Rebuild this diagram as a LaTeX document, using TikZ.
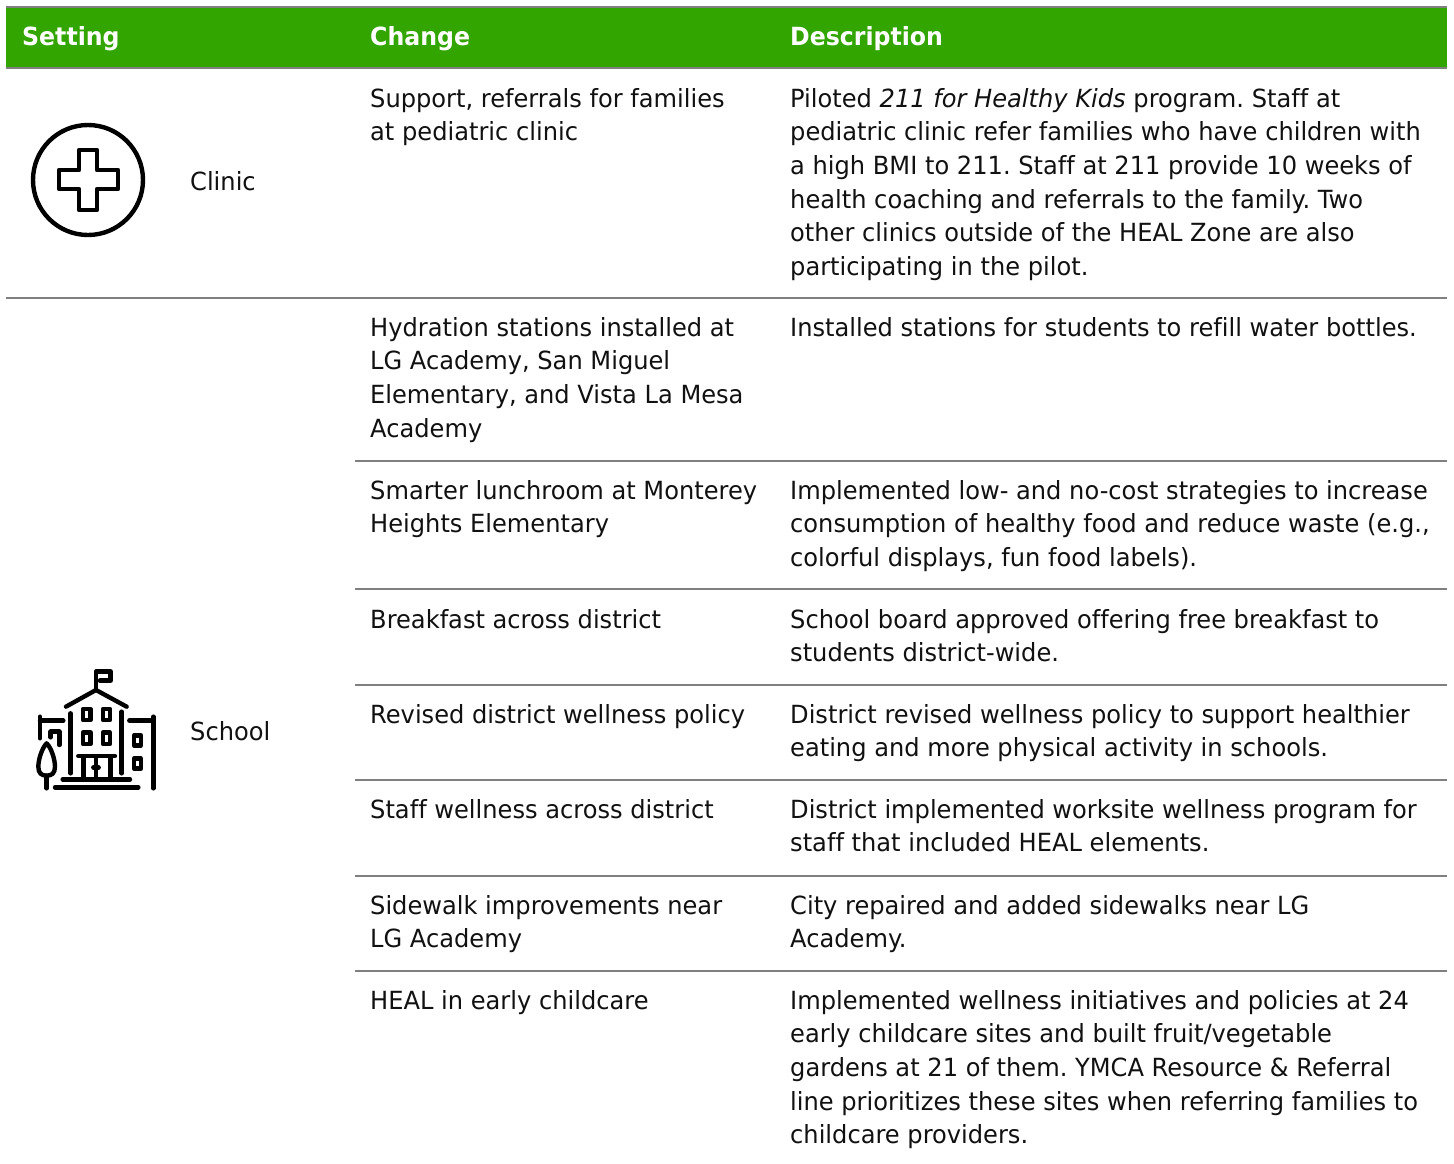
\documentclass[tikz,border=0pt]{standalone}
\usepackage{fontspec}
\setmainfont[FakeStretch=0.965,Ligatures=NoCommon]{DejaVu Sans}
\newfontfamily\headfont[FakeStretch=0.945,Ligatures=NoCommon]{DejaVu Sans Bold}
\definecolor{hdr}{HTML}{33A500}
\definecolor{txt}{HTML}{111111}
\definecolor{rulec}{HTML}{808080}
\tikzset{
  cell/.style={anchor=north west,inner sep=0pt,align=left,text=txt,font=\fontsize{25}{33.6}\selectfont\frenchspacing},
  head/.style={anchor=base west,inner sep=0pt,text=white,font=\fontsize{25}{30}\selectfont\headfont},
  rowrule/.style={draw=rulec,line width=1.3pt},
  icon/.style={draw=black,line width=4.4pt,line cap=round,line join=round,fill=none}
}
\newcommand{\fs}{\rule{0pt}{20pt}}
\begin{document}
\begin{tikzpicture}[x=1pt,y=-1pt]
\useasboundingbox (0,0) rectangle (1454,1163);
\fill[white] (0,0) rectangle (1454,1163);
\fill[hdr] (6,7) rectangle (1447,68);
\draw[rowrule] (6,7) -- (1447,7);
\draw[rowrule] (6,68) -- (1447,68);
\node[head] (hs) at (22,45) {Setting};
\node[head] (hc) at (370,45) {Change};
\node[head] (hd) at (790,45) {Description};
% rules
\draw[rowrule] (6,298) -- (1447,298);
\foreach \y in {461,589,685,780,876,971} \draw[rowrule] (355,\y) -- (1447,\y);
% clinic icon
\draw[icon] (88,180) circle (55);
\draw[icon,line width=4.8pt] (79,150) -- (97,150) -- (97,170) -- (118,170) -- (118,189) -- (97,189) -- (97,210) -- (79,210) -- (79,189) -- (59,189) -- (59,170) -- (79,170) -- cycle;
\node[cell,anchor=base west] (clinic) at (190,190) {Clinic};
% school icon
\begin{scope}[shift={(20,660)},x=0.3333pt,y=-0.3333pt]
\draw[icon] (228,90) -- (228,35) -- (272,35) -- (272,62) -- (240,62);
\draw[icon] (138,140) -- (228,90) -- (320,140);
\draw[icon] (152,160) -- (152,340);
\draw[icon] (305,155) -- (305,340);
\draw[icon] (189,147) rectangle (212,180);
\draw[icon] (249,147) rectangle (270,180);
\draw[icon] (189,218) rectangle (212,252);
\draw[icon] (249,218) rectangle (270,252);
\draw[icon] (175,288) -- (285,288);
\draw[icon] (190,290) -- (190,352);
\draw[icon] (272,290) -- (272,352);
\draw[icon] (228,290) -- (228,352);
\draw[icon] (220,322) -- (236,322);
\draw[icon] (128,358) -- (330,358);
\draw[icon] (105,382) -- (355,382);
\draw[icon] (60,170) -- (60,235);
\draw[icon] (60,182) -- (130,182);
\draw[icon] (92,232) -- (92,215) -- (118,215) -- (118,255);
\draw[icon] (80,250) .. controls (65,265) and (55,300) .. (55,320) .. controls (55,340) and (65,347) .. (80,347) .. controls (95,347) and (105,340) .. (105,320) .. controls (105,300) and (95,265) .. (80,250) -- cycle;
\draw[icon] (80,347) -- (80,385);
\draw[icon] (400,170) -- (400,385);
\draw[icon] (328,182) -- (400,182);
\draw[icon] (342,226) rectangle (363,256);
\draw[icon] (342,296) rectangle (363,326);
\end{scope}
\node[cell,anchor=base west] (school) at (190,740) {School};
% Change column
\node[cell] (c1) at (370,87) {\fs Support, referrals for families\\at pediatric clinic};
\node[cell] (c2) at (370,316) {\fs Hydration stations installed at\\LG Academy, San Miguel\\Elementary, and Vista La Mesa\\Academy};
\node[cell] (c3) at (370,479) {\fs Smarter lunchroom at Monterey\\Heights Elementary};
\node[cell] (c4) at (370,608) {\fs Breakfast across district};
\node[cell] (c5) at (370,703) {\fs Revised district wellness policy};
\node[cell] (c6) at (370,798) {\fs Staff wellness across district};
\node[cell] (c7) at (370,894) {\fs Sidewalk improvements near\\LG Academy};
\node[cell] (c8) at (370,989) {\fs HEAL in early childcare};
% Description column
\node[cell] (d1) at (790,87) {\fs Piloted \textit{211 for Healthy Kids} program. Staff at\\pediatric clinic refer families who have children with\\a high BMI to 211. Staff at 211 provide 10 weeks of\\health coaching and referrals to the family. Two\\other clinics outside of the HEAL Zone are also\\participating in the pilot.};
\node[cell] (d2) at (790,316) {\fs Installed stations for students to refill water bottles.};
\node[cell] (d3) at (790,479) {\fs Implemented low- and no-cost strategies to increase\\consumption of healthy food and reduce waste (e.g.,\\colorful displays, fun food labels).};
\node[cell] (d4) at (790,608) {\fs School board approved offering free breakfast to\\students district-wide.};
\node[cell] (d5) at (790,703) {\fs District revised wellness policy to support healthier\\eating and more physical activity in schools.};
\node[cell] (d6) at (790,798) {\fs District implemented worksite wellness program for\\staff that included HEAL elements.};
\node[cell] (d7) at (790,894) {\fs City repaired and added sidewalks near LG\\Academy.};
\node[cell] (d8) at (790,989) {\fs Implemented wellness initiatives and policies at 24\\early childcare sites and built fruit/vegetable\\gardens at 21 of them. YMCA Resource \& Referral\\line prioritizes these sites when referring families to\\childcare providers.};
\end{tikzpicture}
\end{document}
